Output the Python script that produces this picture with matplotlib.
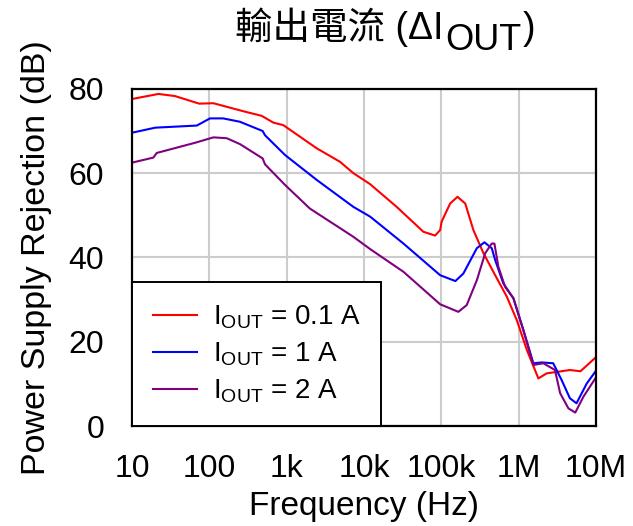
import numpy as np
import matplotlib.pyplot as plt

plt.rcParams['font.family'] = ['Liberation Sans', 'Noto Sans CJK TC', 'DejaVu Sans']
plt.rcParams['mathtext.fontset'] = 'custom'
plt.rcParams['mathtext.rm'] = 'Liberation Sans'

# curves (Hz, dB)
f_01 = [10, 22, 36, 74, 113, 275, 476, 673, 906, 2450, 4900, 7300, 12000, 26500,
        58600, 83000, 96600, 101000, 130000, 162000, 204000, 260000, 351000, 497000,
        703000, 948000, 1.28e6, 1.8e6, 2.3e6, 4.6e6, 6.3e6, 9.8e6]
psr_01 = [77.6, 78.8, 78.3, 76.5, 76.6, 74.7, 73.6, 72.0, 71.4, 65.9, 62.7, 60.0, 57.4, 52.0,
          46.1, 45.2, 46.5, 48.5, 52.8, 54.4, 52.8, 46.5, 41.0, 35.8,
          30.7, 25.1, 18.0, 11.3, 12.5, 13.3, 13.0, 16.2]

f_1 = [10, 20, 69, 102, 151, 249, 490, 525, 955, 2450, 7300, 12000, 32400, 96600,
       152000, 193000, 288000, 361000, 449000, 497000, 632000, 857000, 1.15e6, 1.55e6,
       2.0e6, 2.8e6, 3.6e6, 4.6e6, 5.6e6, 7.6e6, 9.8e6]
psr_1 = [69.6, 70.8, 71.3, 73.0, 73.0, 72.2, 70.0, 69.0, 64.3, 58.4, 52.0, 49.7, 43.3, 35.8,
         34.4, 36.2, 42.2, 43.6, 42.2, 39.4, 33.9, 30.3, 22.8, 14.9,
         15.1, 14.9, 10.9, 6.6, 5.4, 10.1, 12.9]

f_2 = [10, 18.9, 20.9, 65, 113, 168, 249, 490, 525, 955, 2000, 7300, 12000, 32400, 96600,
       166000, 213000, 288000, 369000, 449000, 486000, 547000, 669000, 857000, 1.15e6,
       1.55e6, 2.09e6, 2.95e6, 3.44e6, 4.4e6, 5.4e6, 6.9e6, 9.8e6]
psr_2 = [62.5, 63.7, 64.8, 67.2, 68.5, 68.3, 66.9, 63.5, 62.1, 57.2, 51.6, 44.9, 42.0, 36.6, 28.9,
         27.1, 28.7, 34.6, 41.0, 43.3, 43.3, 37.8, 33.0, 30.3, 22.8,
         14.5, 14.9, 13.3, 7.8, 4.2, 3.2, 7.0, 11.3]

xticks = [10, 100, 1e3, 1e4, 1e5, 1e6, 1e7]
xtick_labels = ['10', '100', '1k', '10k', '100k', '1M', '10M']
yticks = [0, 20, 40, 60, 80]

fig = plt.figure(figsize=(6.33, 5.26), dpi=100)
ax = fig.add_axes([0.2085, 0.19, 0.733, 0.641])

ax.plot(f_01, psr_01, color='#ff0000', lw=1.5, label=r'$\mathregular{I_{OUT}}$ = 0.1 A')
ax.plot(f_1, psr_1, color='#0000ff', lw=1.5, label=r'$\mathregular{I_{OUT}}$ = 1 A')
ax.plot(f_2, psr_2, color='#800080', lw=1.5, label=r'$\mathregular{I_{OUT}}$ = 2 A')

ax.set_xscale('log')
ax.set_xlim(10, 1e7)
ax.set_ylim(0, 80)
ax.set_xticks(xticks)
ax.set_xticklabels(xtick_labels)
ax.minorticks_off()
ax.set_yticks(yticks)
ax.tick_params(length=0, labelsize=23)
ax.tick_params(axis='x', pad=20)
ax.tick_params(axis='y', pad=20)
ax.grid(True, color='#cccccc', lw=1.5)
ax.set_axisbelow(True)
for sp in ax.spines.values():
    sp.set_linewidth(1.6)
    sp.set_color('black')

ax.set_xlabel('Frequency (Hz)', fontsize=24, labelpad=5)
ax.set_ylabel('Power Supply Rejection (dB)', fontsize=24.5, labelpad=12)

leg = ax.legend(loc='lower left', bbox_to_anchor=(0, 0), fontsize=20, frameon=True,
                fancybox=False, edgecolor='black', framealpha=1, borderaxespad=0,
                handlelength=1.6, handletextpad=0.55, labelspacing=0.35, borderpad=0.75)
leg.get_frame().set_linewidth(1.4)

# title in pieces so the CJK text and the subscript both render
fig.canvas.draw()
r = fig.canvas.get_renderer()
t1 = fig.text(0.371, 0.926, '輸出電流 (ΔI', fontsize=27, ha='left', va='baseline')
x1 = t1.get_window_extent(r).x1 / fig.bbox.width
t2 = fig.text(x1 + 0.003, 0.926 - 0.021, 'OUT', fontsize=26, ha='left', va='baseline')
x2 = t2.get_window_extent(r).x1 / fig.bbox.width
fig.text(x2 + 0.002, 0.926, ')', fontsize=27, ha='left', va='baseline')

fig.savefig('out.png', dpi=100)
